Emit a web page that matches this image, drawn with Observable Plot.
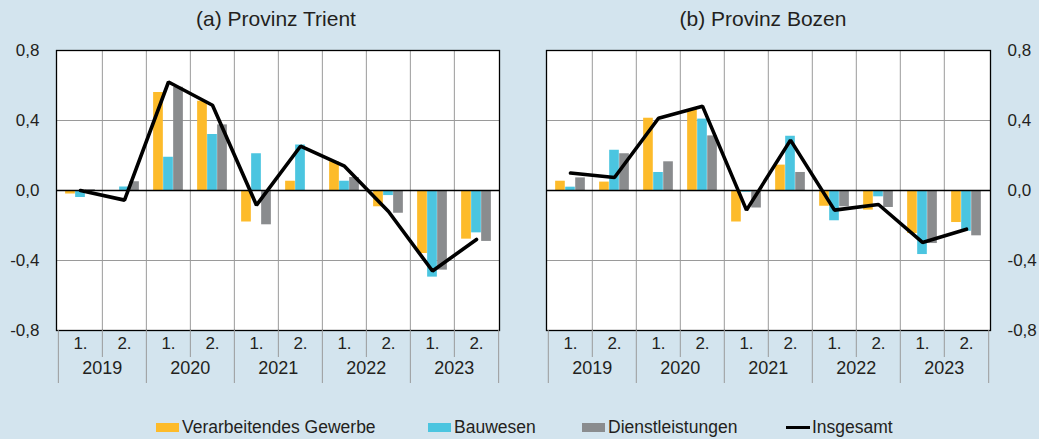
<!DOCTYPE html>
<html><head><meta charset="utf-8">
<script src="https://cdn.jsdelivr.net/npm/d3@7"></script>
<script src="https://cdn.jsdelivr.net/npm/@observablehq/plot@0.6"></script>
<style>
body{margin:0;background:#d3e4ee;}
#wrap{position:relative;width:1039px;height:439px;background:#d3e4ee;font-family:"Liberation Sans",Arial,sans-serif;color:#231f20;overflow:hidden}
.title{position:absolute;top:5px;font-size:21px;transform:translateX(-50%);white-space:nowrap;line-height:28px}
.panel{position:absolute;top:0}
.lg{position:absolute;top:415px;font-size:17.5px;line-height:24px;white-space:nowrap;display:flex;align-items:center}
.sw{display:inline-block;width:23px;height:9px;margin-right:3px}
.ln{display:inline-block;width:24px;height:3px;background:#000;margin-right:2px}
</style></head>
<body>
<div id="wrap"></div>
<script>
// ---- data ----
const years = ["2019", "2020", "2021", "2022", "2023"];
const halves = ["1.", "2."];
const seriesNames = ["Verarbeitendes Gewerbe", "Bauwesen", "Dienstleistungen"];
const totalName = "Insgesamt";
const seriesColors = ["#fdbb2a", "#4bc5e0", "#8a8c8e"];
const yTicks = [-0.8, -0.4, 0, 0.4, 0.8];
const panelTitles = ["(a) Provinz Trient", "(b) Provinz Bozen"];

const trientVerarb = [-0.02, 0, 0.56, 0.51, -0.18, 0.053, 0.164, -0.093, -0.36, -0.278];
const trientBau    = [-0.04, 0.02, 0.19, 0.32, 0.21, 0.26, 0.053, -0.029, -0.495, -0.242];
const trientDienst = [0.005, 0.05, 0.59, 0.375, -0.196, 0, 0.074, -0.13, -0.455, -0.291];
const trientTotal  = [0.0, -0.055, 0.62, 0.487, -0.084, 0.253, 0.139, -0.12, -0.46, -0.28];

const bozenVerarb = [0.053, 0.048, 0.413, 0.463, -0.18, 0.145, -0.09, -0.112, -0.246, -0.183];
const bozenBau    = [0.019, 0.23, 0.103, 0.408, -0.01, 0.31, -0.173, -0.036, -0.366, -0.233];
const bozenDienst = [0.072, 0.21, 0.164, 0.312, -0.10, 0.103, -0.093, -0.097, -0.303, -0.259];
const bozenTotal  = [0.10, 0.074, 0.413, 0.482, -0.112, 0.288, -0.112, -0.08, -0.297, -0.221];

// ---- build ----
const periods = years.flatMap(y => halves.map(h => y + " " + h));
const halfOf = p => p.split(" ")[1];
const fmt = d => d.toFixed(1).replace(".", ",");

function panel(seriesVals, totalVals, o) {
  const fw = o.width - o.ml - o.mr;
  const bw = fw / periods.length;
  const barW = bw * 0.226;
  const gap = (bw - 3 * barW) / 2;
  const frameH = o.height - o.mt - o.mb;
  const long = seriesNames.flatMap((s, k) => periods.map((p, i) => ({period: p, series: s, value: seriesVals[k][i]})));
  const totals = periods.map((p, i) => ({period: p, value: totalVals[i]}));
  const yearStarts = periods.filter(p => halfOf(p) === "1.");
  const midSeps = periods.filter(p => halfOf(p) === "2.");
  const marks = [
    Plot.frame({fill: "white", stroke: null}),
    Plot.ruleY([-0.4, 0.4], {stroke: "#9a9a9a", strokeWidth: 1}),
    Plot.ruleX(periods.slice(1), {x: d => d, dx: -bw / 2, stroke: "#9a9a9a", strokeWidth: 1}),
    ...seriesNames.map((s, k) => Plot.barY(long.filter(d => d.series === s), {
      x: "period", y: "value", fill: seriesColors[k],
      insetLeft: gap + k * barW, insetRight: bw - gap - (k + 1) * barW
    })),
    Plot.ruleY([0], {stroke: "black", strokeWidth: 1.5}),
    Plot.line(totals, {x: "period", y: "value", stroke: "black", strokeWidth: 3.6, strokeLinejoin: "miter"}),
    Plot.frame({stroke: "black", strokeWidth: 1.3}),
    // category separators below the frame
    Plot.ruleX(midSeps, {x: d => d, dx: -bw / 2, insetTop: frameH, insetBottom: -27, stroke: "#9a9a9a"}),
    Plot.ruleX(yearStarts, {x: d => d, dx: -bw / 2, insetTop: frameH, insetBottom: -53, stroke: "#9a9a9a"}),
    Plot.ruleX(periods.slice(-1), {x: d => d, dx: bw / 2, insetTop: frameH, insetBottom: -53, stroke: "#9a9a9a"}),
    Plot.text(periods, {x: d => d, text: halfOf, frameAnchor: "bottom", dy: 18, fontSize: 17, fill: "#231f20"}),
    Plot.text(years, {x: y => y + " 2.", text: d => d, frameAnchor: "bottom", dx: -bw / 2, dy: 43, fontSize: 18, fill: "#231f20"}),
    Plot.axisY(yTicks, {anchor: o.anchor, tickSize: 0, tickPadding: 17, tickFormat: fmt, fontSize: 17, fill: "#231f20", label: null})
  ];
  return Plot.plot({
    width: o.width, height: o.height,
    marginLeft: o.ml, marginRight: o.mr, marginTop: o.mt, marginBottom: o.mb,
    style: {background: "transparent", fontFamily: '"Liberation Sans", Arial, sans-serif', color: "#231f20", overflow: "visible"},
    x: {type: "band", domain: periods, padding: 0, axis: null},
    y: {domain: [-0.8, 0.8], axis: null},
    marks
  });
}

const wrap = document.getElementById("wrap");
const left = panel([trientVerarb, trientBau, trientDienst], trientTotal, {width: 520, height: 395, ml: 56, mr: 21, mt: 50, mb: 65, anchor: "left"});
left.classList.add("panel"); left.style.left = "0px";
const right = panel([bozenVerarb, bozenBau, bozenDienst], bozenTotal, {width: 519, height: 395, ml: 26, mr: 49, mt: 50, mb: 65, anchor: "right"});
right.classList.add("panel"); right.style.left = "520px";
wrap.appendChild(left); wrap.appendChild(right);

[[panelTitles[0], 276], [panelTitles[1], 763]].forEach(([t, cx]) => {
  const d = document.createElement("div");
  d.className = "title"; d.textContent = t; d.style.left = cx + "px";
  wrap.appendChild(d);
});

const legendX = [156, 428, 582, 786];
[...seriesNames, totalName].forEach((name, i) => {
  const d = document.createElement("div");
  d.className = "lg"; d.style.left = legendX[i] + "px";
  const s = document.createElement("span");
  if (i < 3) { s.className = "sw"; s.style.background = seriesColors[i]; }
  else s.className = "ln";
  d.appendChild(s);
  d.appendChild(document.createTextNode(name));
  wrap.appendChild(d);
});
</script>
</body></html>
